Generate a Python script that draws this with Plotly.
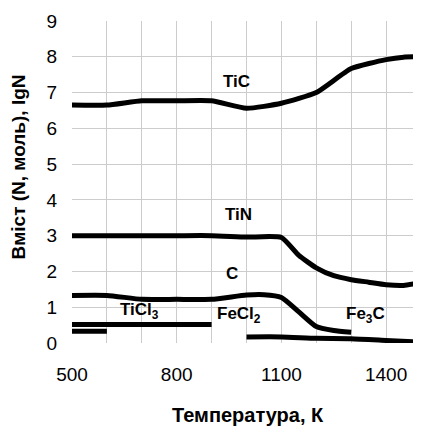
import plotly.graph_objects as go

# Data (temperature K, lgN)
T_TiC = [500, 600, 700, 800, 900, 1000, 1100, 1200, 1300, 1400, 1450, 1500]
TiC = [6.65, 6.65, 6.77, 6.77, 6.77, 6.56, 6.7, 7.0, 7.67, 7.92, 7.99, 8.0]

T_TiN = [500, 600, 700, 800, 900, 1000, 1100, 1150, 1200, 1250, 1300, 1350, 1400, 1450, 1500]
TiN = [3.0, 3.0, 3.0, 3.0, 3.0, 2.96, 2.95, 2.45, 2.1, 1.88, 1.77, 1.7, 1.63, 1.61, 1.69]

T_C = [500, 600, 700, 800, 900, 1000, 1050, 1100, 1150, 1200, 1250, 1300]
C = [1.33, 1.33, 1.22, 1.22, 1.22, 1.34, 1.35, 1.27, 0.87, 0.46, 0.35, 0.3]

T_TiCl3 = [500, 600, 700, 800, 900]
TiCl3 = [0.52, 0.52, 0.52, 0.52, 0.52]

T_FeCl2 = [500, 600]
FeCl2 = [0.33, 0.33]

T_Fe3C = [1000, 1100, 1200, 1300, 1400, 1500]
Fe3C = [0.17, 0.17, 0.13, 0.12, 0.07, 0.02]

labels = [
    ("TiC", 970, 7.32),
    ("TiN", 976, 3.58),
    ("C", 958, 1.93),
    ("TiCl<sub>3</sub>", 692, 0.9),
    ("FeCl<sub>2</sub>", 978, 0.77),
    ("Fe<sub>3</sub>C", 1342, 0.77),
]

FONT = "Liberation Sans, Arial, sans-serif"

fig = go.Figure()
for xs, ys in [(T_TiC, TiC), (T_TiN, TiN), (T_C, C), (T_TiCl3, TiCl3), (T_FeCl2, FeCl2), (T_Fe3C, Fe3C)]:
    fig.add_trace(go.Scatter(x=xs, y=ys, mode="lines",
                             line=dict(color="black", width=5, shape="spline", smoothing=0.5),
                             showlegend=False, hoverinfo="skip"))

for txt, x, y in labels:
    fig.add_annotation(x=x, y=y, text="<b>" + txt + "</b>", showarrow=False,
                       font=dict(family=FONT, size=17, color="black"))

# axis titles
fig.add_annotation(xref="paper", yref="paper", x=0.504, y=-0.2236, text="<b>Температура, К</b>",
                   showarrow=False, xanchor="center", yanchor="middle",
                   font=dict(family=FONT, size=20, color="black"))
fig.add_annotation(xref="paper", yref="paper", x=-0.153, y=0.547, text="<b>Вміст (N, моль), lgN</b>",
                   showarrow=False, xanchor="center", yanchor="middle", textangle=-90,
                   font=dict(family=FONT, size=19, color="black"))

# page body has an 8px margin, so the figure is sized/offset to compensate
fig.update_layout(
    width=413, height=419,
    margin=dict(l=64, r=0, t=13, b=84, autoexpand=False),
    paper_bgcolor="white", plot_bgcolor="white",
    font=dict(family=FONT, size=19, color="black"),
)
fig.update_xaxes(
    range=[500, 1500], tick0=500, dtick=300, automargin=False,
    showgrid=True, gridcolor="#cccccc", gridwidth=1,
    minor=dict(dtick=100, tick0=500, showgrid=True, gridcolor="#cccccc", gridwidth=1),
    zeroline=False, showline=False,
    ticks="outside", ticklen=14, tickcolor="rgba(0,0,0,0)",
    tickfont=dict(size=19),
)
fig.update_yaxes(
    range=[0, 9], dtick=1, automargin=False,
    showgrid=True, gridcolor="#cccccc", gridwidth=1,
    zeroline=False, showline=False,
    ticks="outside", ticklen=10, tickcolor="rgba(0,0,0,0)",
    tickfont=dict(size=19),
)
fig.write_html("out.html")
